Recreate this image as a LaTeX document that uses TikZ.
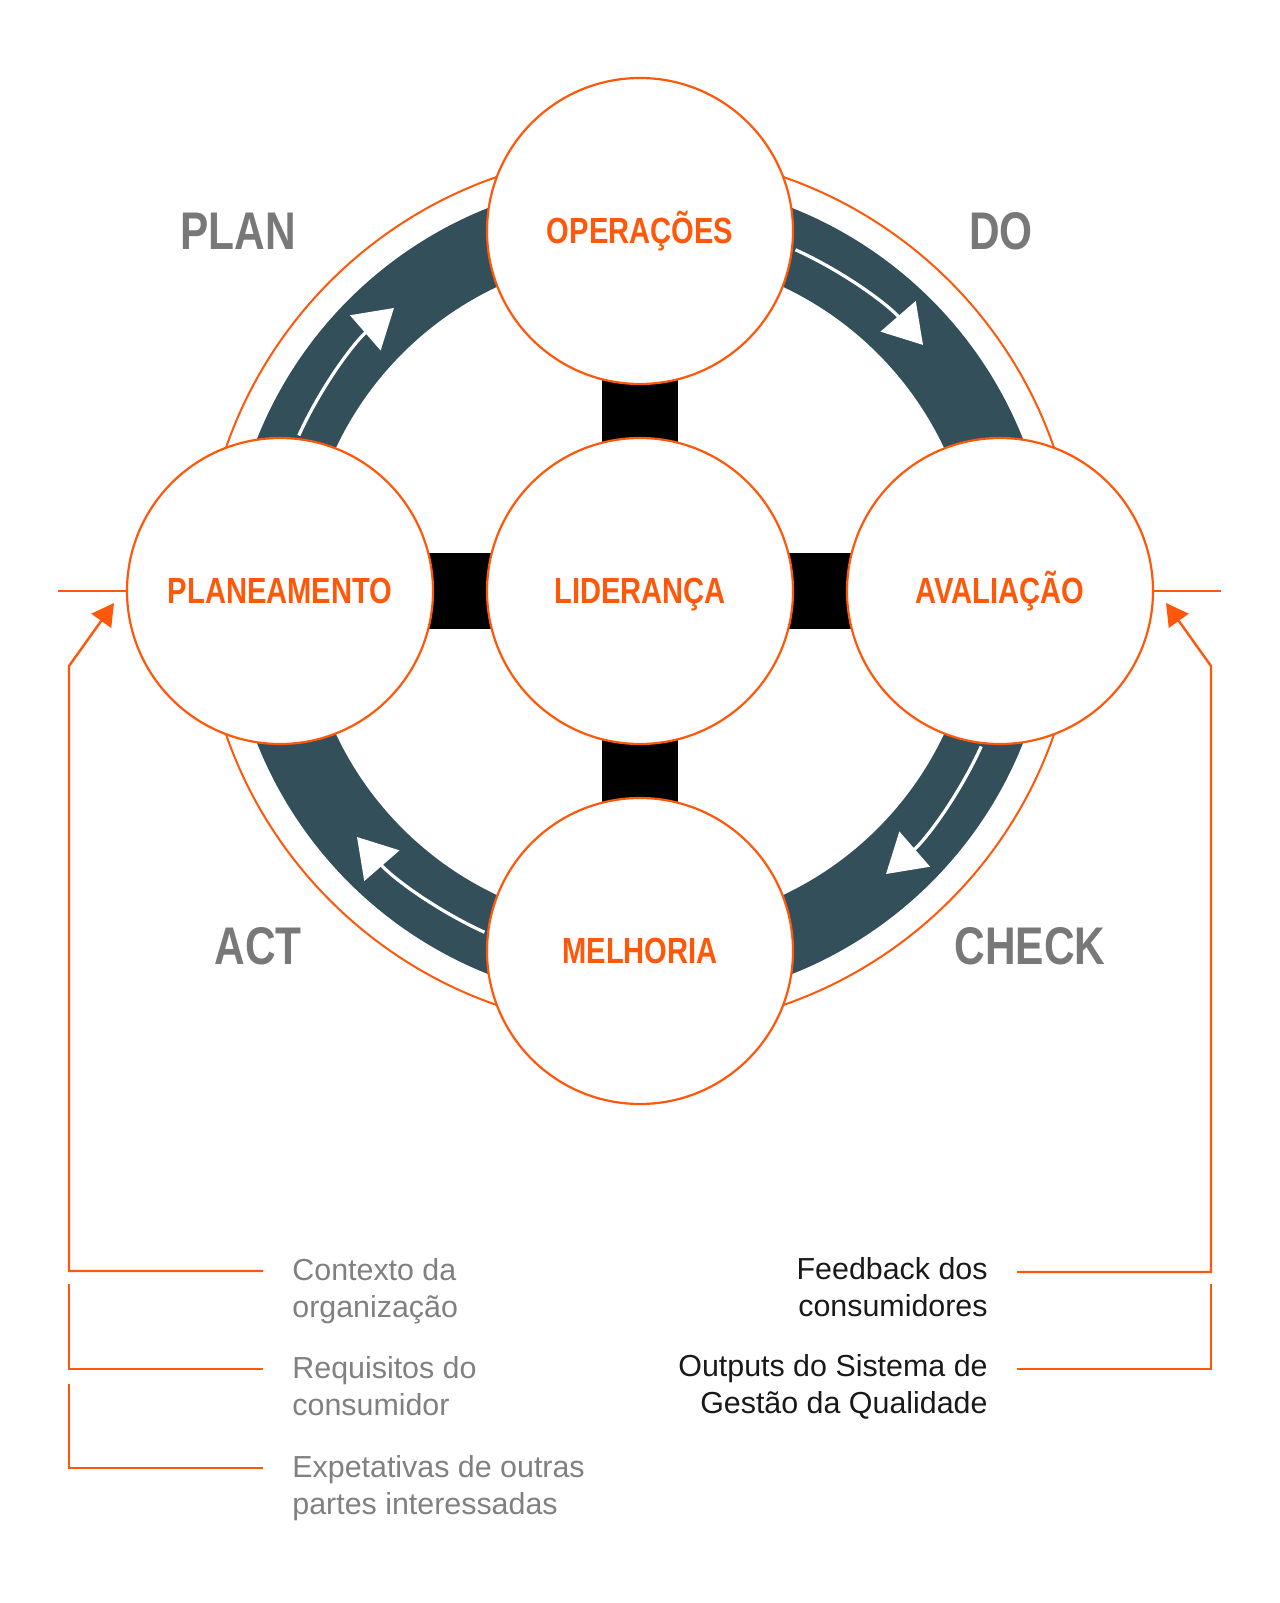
\documentclass[tikz,border=0pt]{standalone}
\usepackage{fontspec}
\setmainfont{Liberation Sans}
\newfontfamily\condfont[FakeStretch=0.8]{Liberation Sans}
\usetikzlibrary{arrows.meta,backgrounds,calc}

\definecolor{pdcaorange}{RGB}{255,88,10}
\definecolor{pdcaband}{RGB}{50,79,90}
\definecolor{pdcagray}{RGB}{120,120,120}
\definecolor{notegray}{RGB}{128,128,128}
\definecolor{notedark}{RGB}{25,25,25}

\begin{document}
\begin{tikzpicture}[x=0.5pt,y=0.5pt,
    stage/.style={circle, draw=pdcaorange, fill=white, line width=1.1pt, minimum size=153pt, inner sep=0pt,
        text=pdcaorange, font=\condfont\bfseries\fontsize{18.2}{20}\selectfont, text height=15.7pt, text depth=2.7pt},
    phase/.style={text=pdcagray, anchor=base, inner sep=0pt, font=\condfont\bfseries\fontsize{26.5}{30}\selectfont},
    ring/.style={draw=pdcaorange, line width=1pt},
    band/.style={draw=pdcaband, line width=38pt},
    bar/.style={draw=black, line width=38pt},
    flow/.style={draw=white, line width=1.6pt, -{Triangle[length=19pt,width=23pt]}},
    feed/.style={draw=pdcaorange, line width=1.2pt},
    feedtip/.style={feed, -{Triangle[length=11pt,width=12pt]}},
    inote/.style={text=notegray, align=left, anchor=base west, inner sep=0pt, font=\fontsize{15.2}{18.25}\selectfont},
    onote/.style={text=notedark, align=right, anchor=base east, inner sep=0pt, font=\fontsize{15.2}{18.25}\selectfont}]

    \useasboundingbox (0,0) rectangle (1280,1603);

    % the five stages
    \node[stage] (lead) at (640,1012) {LIDERANÇA};
    \node[stage] (ops) at (640,1372) {OPERAÇÕES};
    \node[stage] (plan) at (280,1012) {PLANEAMENTO};
    \node[stage] (eval) at (1000,1012) {AVALIAÇÃO};
    \node[stage] (impr) at (640,652) {MELHORIA};

    \begin{scope}[on background layer]
        \draw[ring] (lead.center) circle[radius=438];
        \draw[band] (lead.center) circle[radius=374];
        \foreach \a in {0,-90,-180,-270}
            \draw[flow] ($(lead.center)+(\a+155.5:375)$) arc[start angle=\a+155.5, end angle=\a+131, radius=375];
        \draw[bar] (ops.center) -- (impr.center);
        \draw[bar] (plan.center) -- (eval.center);
    \end{scope}

    % PDCA labels
    \node[phase] (plabel) at (238,1353) {PLAN};
    \node[phase] (dlabel) at (1001,1353) {DO};
    \node[phase] (alabel) at (258,638) {ACT};
    \node[phase] (clabel) at (1030,638) {CHECK};

    % inputs and outputs
    \node[inote] (ctx) at (292,285.5) {Contexto da\\organização};
    \node[inote] (req) at (292,187.5) {Requisitos do\\consumidor};
    \node[inote] (exp) at (292,88.5) {Expetativas de outras\\partes interessadas};
    \node[onote] (fbk) at (988,286.5) {Feedback dos\\consumidores};
    \node[onote] (out) at (988,189.5) {Outputs do Sistema de\\Gestão da Qualidade};

    \coordinate (lstub) at (58,1012);
    \coordinate (rstub) at (1221,1012);
    \coordinate (lin) at (114,1000);
    \coordinate (rin) at (1166,1000);

    \draw[ring] (plan.west) -- (lstub);
    \draw[ring] (eval.east) -- (rstub);

    \draw[feedtip] ([shift={(-29,46.5)}]ctx.base west) -| (69,937) -- (lin);
    \draw[feed] (69,319) |- ([shift={(-29,46.5)}]req.base west);
    \draw[feed] (69,219) |- ([shift={(-29,46.5)}]exp.base west);
    \draw[feedtip] ([shift={(29,44.5)}]fbk.base east) -| (1211,937) -- (rin);
    \draw[feed] (1211,319) |- ([shift={(29,44.5)}]out.base east);
\end{tikzpicture}
\end{document}
